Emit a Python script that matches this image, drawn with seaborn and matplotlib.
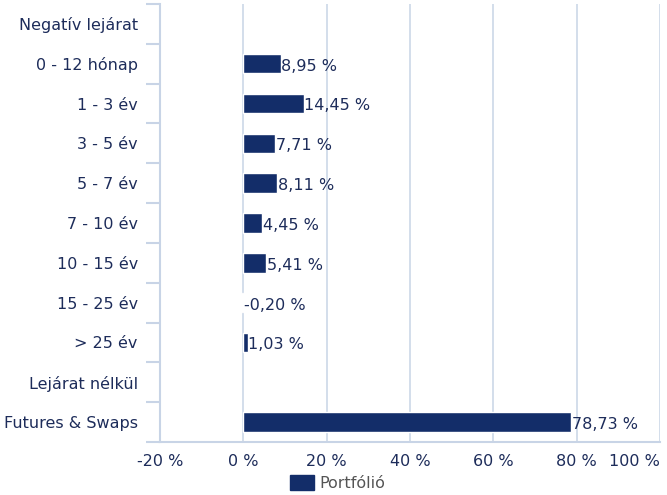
import numpy as np
import pandas as pd
import matplotlib
matplotlib.use('Agg')
import matplotlib.pyplot as plt
import seaborn as sns
from matplotlib.patches import Patch
from matplotlib.ticker import FixedLocator

categories = ['Negatív lejárat', '0 - 12 hónap', '1 - 3 év', '3 - 5 év', '5 - 7 év',
              '7 - 10 év', '10 - 15 év', '15 - 25 év', '> 25 év', 'Lejárat nélkül',
              'Futures & Swaps']
values = [np.nan, 8.95, 14.45, 7.71, 8.11, 4.45, 5.41, -0.20, 1.03, np.nan, 78.73]
x_ticks = [-20, 0, 20, 40, 60, 80, 100]
series_name = 'Portfólió'

bar_color = '#132d69'
text_color = '#1d2c5a'
grid_color = '#c8d4e6'
fs = 11.5

df = pd.DataFrame({'cat': categories, 'val': values})

sns.set_style('white')
plt.rcParams['font.family'] = ['DejaVu Sans']

fig = plt.figure(figsize=(6.67, 4.95), dpi=100)
ax = fig.add_axes([160 / 667, 1 - 442 / 495, 500 / 667, 438 / 495])

sns.barplot(data=df, y='cat', x='val', orient='h', color=bar_color,
            width=0.49, saturation=1, ax=ax, order=categories)

ax.set_xlim(-20, 100)
ax.set_ylim(len(categories) - 0.5, -0.5)
ax.set_xticks(x_ticks)
ax.set_xticklabels([f'{t} %' for t in x_ticks], fontsize=fs, color=text_color)
ax.get_xticklabels()[-1].set_horizontalalignment('right')
ax.tick_params(axis='x', length=0, pad=9)
ax.set_yticks(range(len(categories)))
ax.set_yticklabels(categories, fontsize=fs, color=text_color)
ax.tick_params(axis='y', which='major', length=0, pad=16)
ax.yaxis.set_minor_locator(FixedLocator(np.arange(-0.5, len(categories), 1.0)))
ax.tick_params(axis='y', which='minor', length=10, width=1.5, color=grid_color, left=True)
ax.set_xlabel('')
ax.set_ylabel('')

ax.grid(axis='x', color=grid_color, linewidth=1.1)
ax.set_axisbelow(True)
for side in ['top', 'right']:
    ax.spines[side].set_visible(False)
ax.spines['left'].set_color(grid_color)
ax.spines['left'].set_linewidth(1.5)
ax.spines['bottom'].set_color(grid_color)
ax.spines['bottom'].set_linewidth(1.5)

for i, v in enumerate(values):
    if np.isnan(v):
        continue
    ax.text(max(v, 0) + 0.2, i + 0.06, f'{v:.2f} %'.replace('.', ','),
            va='center', ha='left', fontsize=fs, color=text_color)

fig.legend(handles=[Patch(color=bar_color, label=series_name)], loc='center',
           bbox_to_anchor=(338 / 667, 1 - 483 / 495), frameon=False,
           fontsize=fs, labelcolor='#555555', handlelength=1.5, handleheight=1.1,
           handletextpad=0.35)

fig.savefig('out.png', dpi=100)
